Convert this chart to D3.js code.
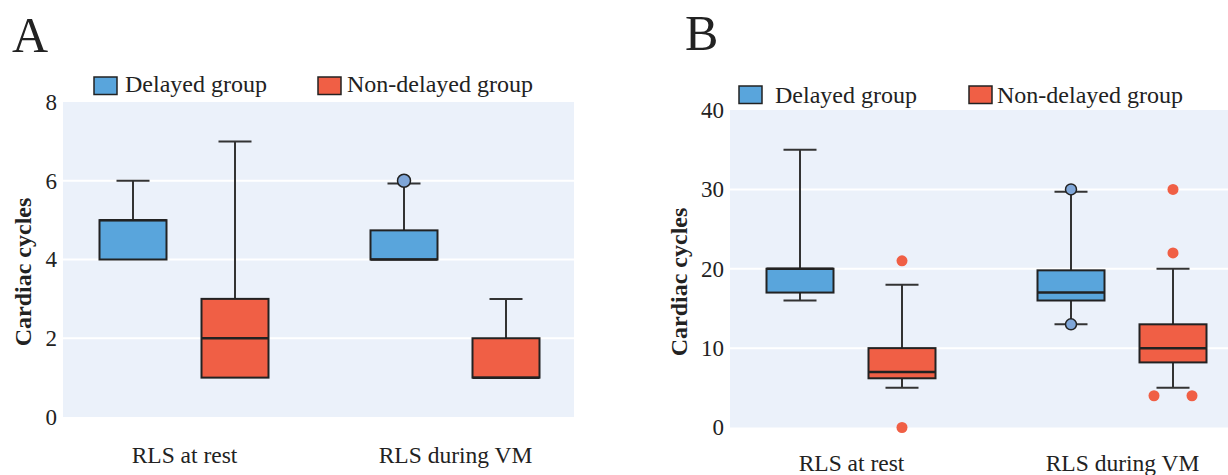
<!DOCTYPE html>
<html>
<head>
<meta charset="utf-8">
<script src="https://cdn.jsdelivr.net/npm/d3@7"></script>
<style>
  body { margin: 0; background: #fff; }
  svg text { font-family: "Liberation Serif", "Times New Roman", serif; fill: #222; }
</style>
</head>
<body>
<svg id="chart" width="1228" height="475"></svg>
<script>
// categories and groups
const categories = ["RLS at rest", "RLS during VM"];
const groups = ["Delayed group", "Non-delayed group"];
const groupColors = ["#59a5dc", "#f05f45"];
const outlierFill = ["#7fa6d8", "#f05f45"];

// box stats per category: [lower whisker, q1, median, q3, upper whisker]
const boxA_delayed    = [[4, 4, 5, 5, 6], [4, 4, 4, 4.74, 5.93]];
const boxA_nondelayed = [[1, 1, 2, 3, 7], [1, 1, 1, 2, 3]];
const outA_delayed    = [[], [6]];
const outA_nondelayed = [[], []];
const ticksA = [0, 2, 4, 6, 8];

const boxB_delayed    = [[16, 17, 20, 20, 35], [13, 16, 17, 19.8, 29.7]];
const boxB_nondelayed = [[5, 6.2, 7, 10, 18], [5, 8.2, 10, 13, 20]];
const outB_delayed    = [[], [30, 13]];
const outB_nondelayed = [[21, 0], [30, 22, 4, 4]];
const ticksB = [0, 10, 20, 30, 40];

const svg = d3.select("#chart");

drawPanel({
  letter: "A", letterX: 12, letterY: 52,
  left: 63, right: 574, top: 102, bottom: 417,
  domain: [0, 8], ticks: ticksA, xPad: 29,
  boxes: [boxA_delayed, boxA_nondelayed],
  outliers: [outA_delayed, outA_nondelayed],
  legend: [{x: 94, y: 77, tx: 125}, {x: 318, y: 77, tx: 347}], legendBase: 92,
  titleX: 23, titleY: 272, outR: 6.5
});

drawPanel({
  letter: "B", letterX: 685, letterY: 50,
  left: 730, right: 1241, top: 110, bottom: 427.5,
  domain: [0, 40], ticks: ticksB, xPad: 27,
  boxes: [boxB_delayed, boxB_nondelayed],
  outliers: [outB_delayed, outB_nondelayed],
  legend: [{x: 739, y: 86, tx: 775}, {x: 969, y: 86, tx: 997}], legendBase: 103,
  titleX: 679, titleY: 282, outR: 5.5
});

function drawPanel(p) {
  const g = svg.append("g");
  const y = d3.scaleLinear().domain(p.domain).range([p.bottom, p.top]);
  const x = d3.scalePoint().domain(categories).range([p.left + 121, p.right - 119]);
  const offset = 51, boxW = 67, capW = 33;

  // background
  g.append("rect")
    .attr("x", p.left).attr("y", p.top)
    .attr("width", p.right - p.left).attr("height", p.bottom - p.top)
    .attr("fill", "#ebf1fa");

  // grid
  g.selectAll(".grid").data(p.ticks.slice(1, -1)).enter()
    .append("line")
    .attr("x1", p.left).attr("x2", p.right)
    .attr("y1", d => y(d)).attr("y2", d => y(d))
    .attr("stroke", "#fff").attr("stroke-width", 2);

  // y axis
  g.append("g")
    .attr("transform", `translate(${p.left},0)`)
    .call(d3.axisLeft(y).tickValues(p.ticks).tickSize(0).tickPadding(6))
    .call(a => a.select(".domain").remove())
    .call(a => a.selectAll("text").attr("font-size", 23).attr("fill", "#333"));

  // x axis
  g.append("g")
    .attr("transform", `translate(0,${p.bottom})`)
    .call(d3.axisBottom(x).tickSize(0).tickPadding(p.xPad))
    .call(a => a.select(".domain").remove())
    .call(a => a.selectAll("text").attr("font-size", 23.5).attr("fill", "#333"));

  // y title
  g.append("text")
    .attr("transform", `translate(${p.titleX},${p.titleY}) rotate(-90)`)
    .attr("text-anchor", "middle").attr("dominant-baseline", "central")
    .attr("font-size", 24).attr("font-weight", "bold")
    .text("Cardiac cycles");

  // panel letter
  g.append("text")
    .attr("x", p.letterX).attr("y", p.letterY)
    .attr("font-size", 50).attr("fill", "#111")
    .text(p.letter);

  // legend
  p.legend.forEach((l, i) => {
    g.append("rect")
      .attr("x", l.x).attr("y", l.y).attr("width", 23).attr("height", 17.5)
      .attr("fill", groupColors[i]).attr("stroke", "#222").attr("stroke-width", 1.5);
    g.append("text")
      .attr("x", l.tx).attr("y", p.legendBase)
      .attr("font-size", 24)
      .text(groups[i]);
  });

  // boxes
  p.boxes.forEach((stats, gi) => {
    stats.forEach((s, ci) => {
      const cx = x(categories[ci]) + (gi === 0 ? -offset : offset);
      const [lo, q1, med, q3, hi] = s;
      const bg = g.append("g");
      // whiskers
      [[q3, hi], [lo, q1]].forEach(([a, b]) => {
        if (a === b) return;
        bg.append("line")
          .attr("x1", cx).attr("x2", cx).attr("y1", y(a)).attr("y2", y(b))
          .attr("stroke", "#333").attr("stroke-width", 2);
      });
      [lo, hi].forEach((v, k) => {
        if (v === (k === 0 ? q1 : q3)) return;
        bg.append("line")
          .attr("x1", cx - capW / 2).attr("x2", cx + capW / 2)
          .attr("y1", y(v)).attr("y2", y(v))
          .attr("stroke", "#333").attr("stroke-width", 2);
      });
      bg.append("rect")
        .attr("x", cx - boxW / 2).attr("y", y(q3))
        .attr("width", boxW).attr("height", y(q1) - y(q3))
        .attr("fill", groupColors[gi]).attr("stroke", "#222").attr("stroke-width", 2);
      bg.append("line")
        .attr("x1", cx - boxW / 2).attr("x2", cx + boxW / 2)
        .attr("y1", y(med)).attr("y2", y(med))
        .attr("stroke", "#222").attr("stroke-width", 2.5);

      // outliers; equal values are spread side by side
      const pts = p.outliers[gi][ci];
      const counts = d3.rollup(pts, v => v.length, d => d);
      const seen = new Map();
      pts.forEach(v => {
        const n = counts.get(v), k = seen.get(v) || 0;
        seen.set(v, k + 1);
        const dx = n > 1 ? (k - (n - 1) / 2) * 38 : 0;
        bg.append("circle")
          .attr("cx", cx + dx).attr("cy", y(v)).attr("r", p.outR)
          .attr("fill", outlierFill[gi])
          .attr("stroke", gi === 0 ? "#222" : "none").attr("stroke-width", 1.5);
      });
    });
  });
}
</script>
</body>
</html>
